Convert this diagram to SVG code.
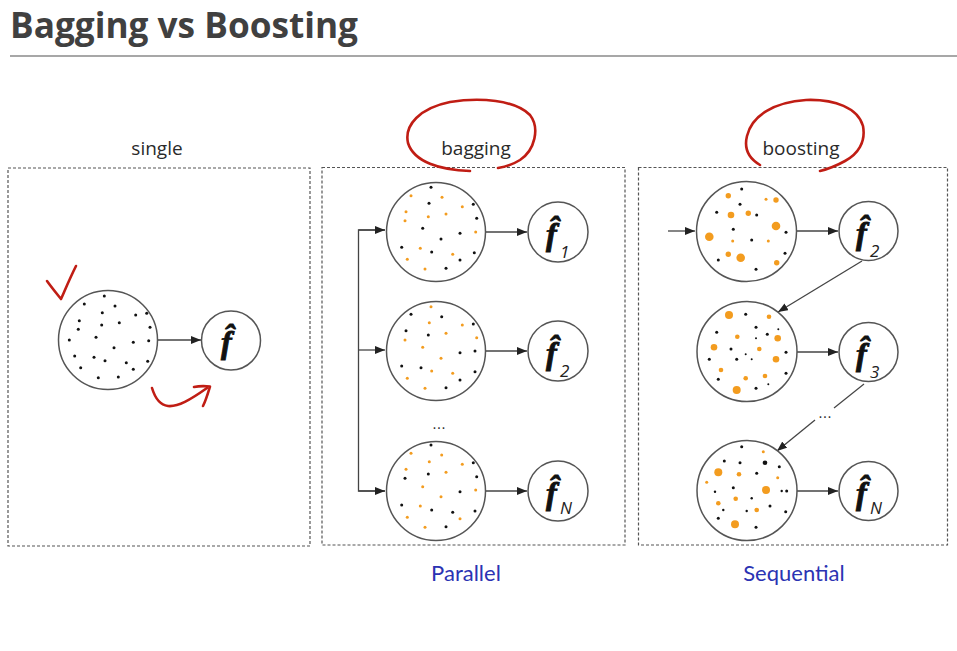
<svg xmlns="http://www.w3.org/2000/svg" width="957" height="651" viewBox="0 0 957 651">
<defs>
<style>
.title{font-family:"Open Sans","Noto Sans",sans-serif;font-weight:bold;font-size:35px;fill:#404040}
.lbl{font-family:"Open Sans","Noto Sans",sans-serif;font-size:19px;fill:#2a2a2a;text-anchor:middle}
.blue{font-family:Lato,"Open Sans",sans-serif;font-size:22px;fill:#2b33b3;text-anchor:middle}
.box{fill:none;stroke:#555;stroke-width:1.2;stroke-dasharray:3 2}
.big{fill:#fff;stroke:#555;stroke-width:1.5}
.fc{fill:#fff;stroke:#555;stroke-width:1.5}
.f{font-family:"Liberation Serif","DejaVu Serif",serif;font-weight:bold;font-style:italic;font-size:32px;fill:#111;stroke:#111;stroke-width:0.9}
.sub{font-family:"Open Sans","Noto Sans",sans-serif;font-style:italic;font-weight:normal;font-size:17px;fill:#222}
.conn{fill:none;stroke:#444;stroke-width:1.3}
.red{fill:none;stroke:#c01d14;stroke-width:2.6;stroke-linecap:round;stroke-linejoin:round}
.k{fill:#111}
.o{fill:#f39c1f}
.dots{font-family:"DejaVu Sans",sans-serif;font-size:14px;fill:#333;text-anchor:middle}
</style>
<marker id="ah" markerUnits="userSpaceOnUse" markerWidth="10" markerHeight="8" refX="10" refY="4" orient="auto">
<path d="M0,0 L10,4 L0,8 z" fill="#222"/>
</marker>
</defs>
<rect width="957" height="651" fill="#fff"/>

<text class="title" x="10" y="38" textLength="348" lengthAdjust="spacingAndGlyphs">Bagging vs Boosting</text>
<line x1="10" y1="56" x2="957" y2="56" stroke="#8a8a8a" stroke-width="1.5"/>

<rect class="box" x="8" y="168" width="302" height="378"/>
<rect class="box" x="322" y="167.5" width="303" height="377.5"/>
<rect class="box" x="638.5" y="167.5" width="309" height="377.5"/>

<text class="lbl" x="157" y="155">single</text>
<text class="lbl" x="476" y="155">bagging</text>
<text class="lbl" x="801" y="155">boosting</text>
<text class="blue" x="466" y="581">Parallel</text>
<text class="blue" x="794" y="581">Sequential</text>

<g id="connectors">
<line class="conn" x1="158" y1="340" x2="201" y2="340" marker-end="url(#ah)"/>
<polyline class="conn" points="385,230 358.5,230 358.5,491 385,491"/>
<line class="conn" x1="358.5" y1="230" x2="385" y2="230" marker-end="url(#ah)"/>
<line class="conn" x1="358.5" y1="350" x2="385" y2="350" marker-end="url(#ah)"/>
<line class="conn" x1="358.5" y1="491" x2="385" y2="491" marker-end="url(#ah)"/>
<line class="conn" x1="486" y1="232" x2="527" y2="232" marker-end="url(#ah)"/>
<line class="conn" x1="486" y1="351" x2="527" y2="351" marker-end="url(#ah)"/>
<line class="conn" x1="486" y1="491" x2="527" y2="491" marker-end="url(#ah)"/>
<line class="conn" x1="668" y1="231" x2="695" y2="231" marker-end="url(#ah)"/>
<line class="conn" x1="797" y1="231" x2="838" y2="231" marker-end="url(#ah)"/>
<line class="conn" x1="797" y1="352" x2="838" y2="352" marker-end="url(#ah)"/>
<line class="conn" x1="797" y1="491" x2="838" y2="491" marker-end="url(#ah)"/>
<line class="conn" x1="862" y1="261" x2="778" y2="312" marker-end="url(#ah)"/>
<line class="conn" x1="864" y1="384" x2="834" y2="408"/>
<line class="conn" x1="815" y1="420" x2="777" y2="451" marker-end="url(#ah)"/>
</g>

<g id="single-data">
<circle class="big" cx="108" cy="340" r="49.5"/>
<g class="k">
<circle cx="104.3" cy="296" r="1.5"/><circle cx="84.3" cy="304" r="1.5"/><circle cx="115" cy="306" r="1.5"/><circle cx="102.3" cy="312.7" r="1.5"/><circle cx="135.7" cy="315" r="1.5"/><circle cx="146.7" cy="313.3" r="1.5"/><circle cx="79.3" cy="320.7" r="1.5"/><circle cx="101.7" cy="325" r="1.5"/><circle cx="119.3" cy="322.7" r="1.5"/><circle cx="78.3" cy="329.3" r="1.5"/><circle cx="150" cy="327.3" r="1.5"/><circle cx="96" cy="337.3" r="1.5"/><circle cx="69.3" cy="340" r="1.5"/><circle cx="133.3" cy="342.3" r="1.5"/><circle cx="148.7" cy="340.7" r="1.5"/><circle cx="114" cy="347.7" r="1.5"/><circle cx="74.7" cy="356" r="1.5"/><circle cx="94" cy="357.3" r="1.5"/><circle cx="105" cy="360.7" r="1.5"/><circle cx="126.3" cy="362.7" r="1.5"/><circle cx="147.7" cy="361.3" r="1.5"/><circle cx="80.7" cy="367.7" r="1.5"/><circle cx="133.3" cy="369.3" r="1.5"/><circle cx="98.3" cy="377.7" r="1.5"/><circle cx="118.3" cy="377" r="1.5"/>
</g>
</g>
<g id="single-f">
<circle class="fc" cx="231" cy="340.5" r="29.5"/>
<text class="f" x="221" y="353">f̂</text>
</g>

<g id="bag-data-1">
<circle class="big" cx="436" cy="232" r="49.5"/>
<g class="k"><circle cx="431" cy="187.3" r="1.5"/><circle cx="429" cy="203.3" r="1.5"/><circle cx="473.3" cy="204.3" r="1.5"/><circle cx="476.7" cy="218.3" r="1.5"/><circle cx="422.7" cy="228.3" r="1.5"/><circle cx="460" cy="233.3" r="1.5"/><circle cx="441" cy="239" r="1.5"/><circle cx="401.7" cy="247.3" r="1.5"/><circle cx="431.7" cy="252" r="1.5"/><circle cx="474.3" cy="252.7" r="1.5"/><circle cx="460" cy="260" r="1.5"/><circle cx="446" cy="268.3" r="1.5"/></g>
<g class="o"><circle cx="411" cy="195.7" r="1.5"/><circle cx="442" cy="197.3" r="1.5"/><circle cx="462.3" cy="206.7" r="1.5"/><circle cx="406" cy="211.7" r="1.5"/><circle cx="405" cy="220.7" r="1.5"/><circle cx="428.3" cy="216.7" r="1.5"/><circle cx="446" cy="214" r="1.5"/><circle cx="475.7" cy="232" r="1.5"/><circle cx="420.3" cy="248.3" r="1.5"/><circle cx="452.7" cy="254.3" r="1.5"/><circle cx="407.3" cy="259.3" r="1.5"/><circle cx="425" cy="269" r="1.5"/></g>
</g>
<g id="bag-data-2">
<circle class="big" cx="436" cy="351" r="49.5"/>
<g class="k"><circle cx="411" cy="314.3" r="1.5"/><circle cx="441.7" cy="316.7" r="1.5"/><circle cx="473.3" cy="324" r="1.5"/><circle cx="406" cy="330.7" r="1.5"/><circle cx="428.3" cy="335" r="1.5"/><circle cx="475" cy="351" r="1.5"/><circle cx="460" cy="352.7" r="1.5"/><circle cx="401.7" cy="366" r="1.5"/><circle cx="421" cy="367.7" r="1.5"/><circle cx="475" cy="371.7" r="1.5"/><circle cx="460" cy="380" r="1.5"/><circle cx="446" cy="387.7" r="1.5"/></g>
<g class="o"><circle cx="431" cy="306.7" r="1.5"/><circle cx="429.3" cy="322.7" r="1.5"/><circle cx="462.3" cy="325" r="1.5"/><circle cx="446" cy="333.3" r="1.5"/><circle cx="405" cy="340" r="1.5"/><circle cx="476.7" cy="337.7" r="1.5"/><circle cx="422.7" cy="347.3" r="1.5"/><circle cx="441" cy="358.3" r="1.5"/><circle cx="431.7" cy="371" r="1.5"/><circle cx="452.7" cy="373.3" r="1.5"/><circle cx="407.3" cy="378.3" r="1.5"/><circle cx="425" cy="388.3" r="1.5"/></g>
</g>
<text class="dots" x="439" y="429">...</text>
<g id="bag-data-n">
<circle class="big" cx="436" cy="491" r="49.5"/>
<g class="k"><circle cx="431" cy="445" r="1.5"/><circle cx="473.3" cy="462.7" r="1.5"/><circle cx="405" cy="478.3" r="1.5"/><circle cx="428.3" cy="474" r="1.5"/><circle cx="476.7" cy="476.7" r="1.5"/><circle cx="460" cy="491.7" r="1.5"/><circle cx="401.7" cy="505" r="1.5"/><circle cx="431.7" cy="510" r="1.5"/><circle cx="452.7" cy="512.3" r="1.5"/><circle cx="475" cy="511" r="1.5"/><circle cx="446" cy="526.7" r="1.5"/></g>
<g class="o"><circle cx="411" cy="453.3" r="1.5"/><circle cx="441.7" cy="455" r="1.5"/><circle cx="429.3" cy="461.7" r="1.5"/><circle cx="462.3" cy="464.3" r="1.5"/><circle cx="406" cy="469.3" r="1.5"/><circle cx="446" cy="472.3" r="1.5"/><circle cx="422.7" cy="486.7" r="1.5"/><circle cx="475.7" cy="490" r="1.5"/><circle cx="441" cy="496.7" r="1.5"/><circle cx="420.3" cy="506" r="1.5"/><circle cx="407.3" cy="517.3" r="1.5"/><circle cx="460" cy="518.7" r="1.5"/><circle cx="425" cy="527.3" r="1.5"/></g>
</g>

<g id="bag-f1">
<circle class="fc" cx="558" cy="232" r="30"/>
<text class="f" x="546" y="245">f̂</text>
<text class="sub" x="560" y="258">1</text>
</g>
<g id="bag-f2">
<circle class="fc" cx="558" cy="351" r="30"/>
<text class="f" x="546" y="364">f̂</text>
<text class="sub" x="560" y="377">2</text>
</g>
<g id="bag-fn">
<circle class="fc" cx="558" cy="491" r="30"/>
<text class="f" x="546" y="504">f̂</text>
<text class="sub" x="560" y="514">N</text>
</g>

<g id="boost-data-1">
<circle class="big" cx="746.5" cy="231.5" r="50"/>
<g class="k"><circle cx="741.7" cy="189" r="1.5"/><circle cx="740" cy="204.3" r="1.5"/><circle cx="716.7" cy="212.3" r="1.5"/><circle cx="756.7" cy="215" r="1.5"/><circle cx="733.3" cy="229.3" r="1.5"/><circle cx="786" cy="232.3" r="1.5"/><circle cx="751.7" cy="240" r="1.5"/><circle cx="785" cy="253.3" r="1.5"/><circle cx="718.3" cy="260" r="1.5"/><circle cx="756" cy="269.3" r="1.5"/></g>
<g class="o"><circle cx="728.3" cy="195.7" r="2.7"/><circle cx="776" cy="200" r="2.7"/><circle cx="766" cy="199.3" r="1.5"/><circle cx="731" cy="215" r="3.3"/><circle cx="748.3" cy="213.3" r="2.7"/><circle cx="776" cy="226" r="4.3"/><circle cx="709.3" cy="236.7" r="4.3"/><circle cx="732.7" cy="241" r="1.5"/><circle cx="768.3" cy="241" r="1.5"/><circle cx="728.3" cy="254.3" r="2.7"/><circle cx="740.7" cy="257.7" r="4.3"/><circle cx="776.7" cy="262.7" r="2.7"/></g>
</g>
<g id="boost-data-2">
<circle class="big" cx="747" cy="351.5" r="50"/>
<g class="k"><circle cx="745.7" cy="314.3" r="1.5"/><circle cx="756" cy="327.3" r="1.5"/><circle cx="778.3" cy="329.3" r="1"/><circle cx="716.7" cy="332.3" r="1.5"/><circle cx="767.3" cy="334.3" r="1.5"/><circle cx="756" cy="338.3" r="1"/><circle cx="731" cy="349" r="1.5"/><circle cx="786" cy="352.3" r="1.5"/><circle cx="709.3" cy="359.3" r="1.5"/><circle cx="736.7" cy="359.3" r="1.5"/><circle cx="745.7" cy="354.3" r="1"/><circle cx="751.7" cy="359.3" r="1"/><circle cx="786" cy="373.3" r="1.5"/><circle cx="718.3" cy="379.3" r="1.5"/><circle cx="768.3" cy="384.3" r="1"/><circle cx="756" cy="388.3" r="1.5"/></g>
<g class="o"><circle cx="729" cy="315" r="4"/><circle cx="769" cy="316.7" r="2.3"/><circle cx="737.3" cy="336.7" r="2.3"/><circle cx="777.7" cy="338.3" r="3.3"/><circle cx="714" cy="347.3" r="3.3"/><circle cx="759.3" cy="349" r="2.3"/><circle cx="776" cy="359.3" r="3.3"/><circle cx="721" cy="370" r="2.3"/><circle cx="745.7" cy="378.3" r="2.3"/><circle cx="765" cy="376" r="2.3"/><circle cx="736.7" cy="390" r="4"/></g>
</g>
<text class="dots" x="825" y="418">...</text>
<g id="boost-data-n">
<circle class="big" cx="747" cy="490.5" r="50"/>
<g class="k"><circle cx="741.7" cy="446.7" r="1.5"/><circle cx="724.3" cy="461" r="1.5"/><circle cx="740" cy="462.7" r="1.5"/><circle cx="765" cy="462.7" r="2.3"/><circle cx="756.7" cy="473.3" r="1.5"/><circle cx="779.3" cy="466.7" r="1.5"/><circle cx="715" cy="491.7" r="1.2"/><circle cx="733.3" cy="487.7" r="1.5"/><circle cx="781.7" cy="491" r="1.2"/><circle cx="786.7" cy="491" r="1.5"/><circle cx="751.7" cy="498.3" r="1.2"/><circle cx="723.3" cy="510" r="1.2"/><circle cx="746.7" cy="511" r="1.2"/><circle cx="770" cy="506" r="1.5"/><circle cx="785.7" cy="511.7" r="1.5"/><circle cx="718.3" cy="518.3" r="1.5"/><circle cx="756" cy="527.3" r="1.5"/></g>
<g class="o"><circle cx="763.3" cy="451.7" r="1.5"/><circle cx="718.3" cy="472.3" r="4"/><circle cx="739" cy="474.3" r="2.3"/><circle cx="706.7" cy="482.3" r="1.5"/><circle cx="777.7" cy="477.7" r="1.5"/><circle cx="766" cy="490" r="4"/><circle cx="735.7" cy="498.7" r="2.3"/><circle cx="718.3" cy="503.3" r="2.3"/><circle cx="756.7" cy="510" r="2.3"/><circle cx="735" cy="524.3" r="4"/></g>
</g>

<g id="boost-f2">
<circle class="fc" cx="868.5" cy="231" r="29.5"/>
<text class="f" x="856" y="244">f̂</text>
<text class="sub" x="870" y="257">2</text>
</g>
<g id="boost-f3">
<circle class="fc" cx="868.5" cy="352" r="29.5"/>
<text class="f" x="856" y="365">f̂</text>
<text class="sub" x="870" y="378">3</text>
</g>
<g id="boost-fn">
<circle class="fc" cx="868.5" cy="491" r="29.5"/>
<text class="f" x="856" y="504">f̂</text>
<text class="sub" x="870" y="514">N</text>
</g>

<g id="annotations">
<path class="red" d="M470,171 C440,170 414,162 408,143 C404,125 420,108 450,102 C480,97 515,100 530,115 C540,128 535,150 520,160 C512,165 505,167 498,168"/>
<path class="red" d="M760,165 C748,158 744,148 747,136 C752,115 775,102 806,100 C835,99 858,108 863,126 C866,142 858,154 845,161 C836,166 828,169 820,171"/>
<path class="red" d="M47,281 C52,288 57,294 61,299 C65,290 70,278 76,266"/>
<path class="red" d="M152,388 C155,398 160,405 168,406 C178,407 190,400 207,388"/>
<path class="red" d="M194,387 C199,386 205,386 210,386.5 C208,393 206,400 203,406"/>
</g>
</svg>
